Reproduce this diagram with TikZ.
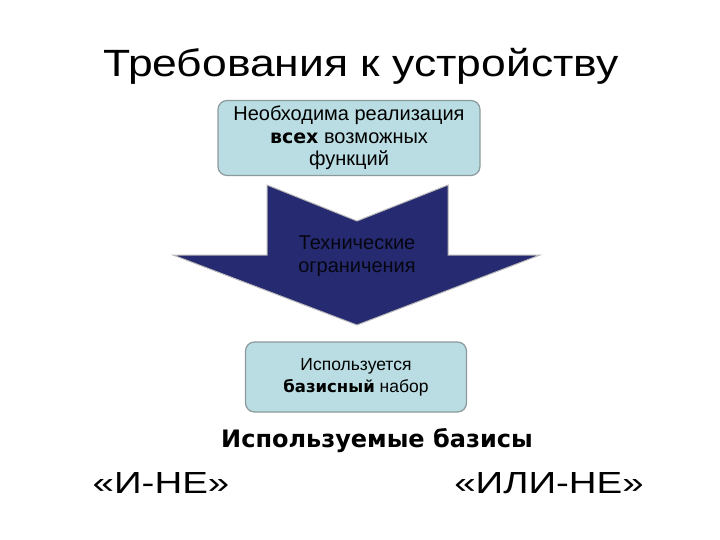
\documentclass[tikz,border=0pt]{standalone}
\usepackage{fontspec}
\setmainfont{Liberation Sans}
\newfontfamily\verd{DejaVu Sans}
\newfontfamily\widettl{Liberation Sans}[FakeStretch=1.17]
\newfontfamily\widebas{Liberation Sans}[FakeStretch=1.26]
\usetikzlibrary{positioning}
\definecolor{boxfill}{HTML}{B9DDE2}
\definecolor{boxline}{HTML}{8C9A9C}
\definecolor{navy}{HTML}{262A70}
\tikzset{
  x=1pt, y=-1pt,
  req/.style   ={rectangle, rounded corners=9pt, draw=boxline, line width=1.2pt,
                 fill=boxfill, inner sep=3pt, align=center},
  bigarrow/.style={fill=navy, draw=gray!55, line width=1pt, line join=miter},
  lbl/.style   ={font=\fontsize{20}{23}\selectfont, align=center, text=black!85!navy},
  ttl/.style   ={font=\widettl\fontsize{38}{44}\selectfont, anchor=base},
  basis/.style ={font=\widebas\fontsize{30.5}{36}\selectfont, anchor=base},
}

\begin{document}
\begin{tikzpicture}
\useasboundingbox (0,0) rectangle (720,540);
% ---- title ----------------------------------------------------------
\node[ttl] (title) at (361,77) {Требования к устройству};

% ---- requirement (top) ----------------------------------------------
\node[req, font=\fontsize{20}{22.5}\selectfont, minimum width=262pt,
      minimum height=75pt] (need) at (349,138)
  {Необходима реализация\\{\verd\bfseries\fontsize{19}{22.5}\selectfont всех} возможных\\функций};

% ---- technical constraints arrow ------------------------------------
\fill[bigarrow] (267,185) -- (357,221) -- (448,185) -- (448,255) -- (540,255)
  -- (357,325) -- (173,255) -- (267,255) -- cycle;
\node[lbl] (tech) at (357,256) {Технические\\ограничения};

% ---- result (bottom) ------------------------------------------------
\node[req, font=\fontsize{17.5}{22}\selectfont, minimum width=221pt,
      minimum height=70pt] (base) at (356,377)
  {Используется\\{\verd\bfseries\fontsize{16.5}{22}\selectfont базисный} набор};

% ---- bases ----------------------------------------------------------
\node[font=\verd\bfseries\fontsize{24}{28}\selectfont, anchor=base] (used)
  at (377,447) {Используемые базисы};
\node[basis] (nand) at (161,493) {«И-НЕ»};
\node[basis] (nor)  at (549,493) {«ИЛИ-НЕ»};
\end{tikzpicture}
\end{document}
